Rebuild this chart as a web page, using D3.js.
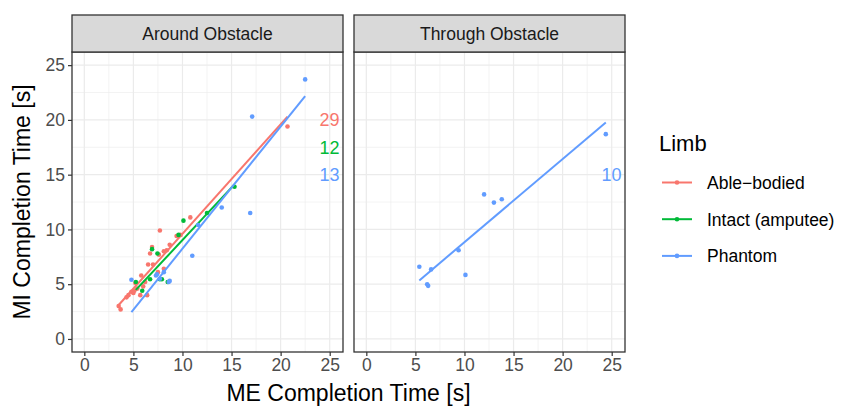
<!DOCTYPE html>
<html>
<head>
<meta charset="utf-8">
<script src="https://cdn.jsdelivr.net/npm/d3@7"></script>
<style>
  body { margin: 0; background: #fff; }
  svg { font-family: "Liberation Sans", Arial, sans-serif; }
</style>
</head>
<body>
<svg id="chart" width="847" height="408"></svg>
<script>
// facets, groups and colours
const panels = ['Around Obstacle', 'Through Obstacle'];
const limbs = ['Able−bodied', 'Intact (amputee)', 'Phantom'];
const limbColors = ['#F8766D', '#00BA38', '#619CFF'];
const xTicks = [0, 5, 10, 15, 20, 25];
const yTicks = [0, 5, 10, 15, 20, 25];

// [ME time, MI time] per participant
const aroundAble = [
    [3.5, 3.0], [3.7, 2.7], [4.3, 3.8], [4.5, 4.0], [4.8, 4.3], [5.0, 4.2],
    [5.1, 4.4], [5.2, 5.1], [5.7, 4.0], [6.0, 4.8], [6.4, 4.0], [5.8, 5.8],
    [6.5, 6.8], [7.0, 6.8], [6.7, 7.8], [6.9, 8.4], [7.5, 6.1], [7.7, 9.9],
    [8.1, 8.0], [8.1, 6.4], [7.6, 7.7], [8.7, 8.6], [9.4, 9.4], [9.8, 9.5],
    [10.8, 11.1], [20.7, 19.4], [6.2, 5.2], [5.4, 4.6], [8.4, 8.1]
];
const aroundIntact = [
    [5.25, 5.2], [5.9, 4.4], [6.7, 5.45], [6.9, 8.2], [7.45, 7.8], [7.7, 5.45],
    [7.9, 5.45], [8.5, 5.2], [9.6, 9.5], [10.1, 10.8], [12.5, 11.5], [15.3, 13.9]
];
const aroundPhantom = [
    [4.8, 5.4], [7.4, 5.9], [8.1, 6.1], [7.7, 5.5], [8.6, 5.2], [8.7, 5.3],
    [11.0, 7.6], [11.6, 10.4], [14.0, 12.0], [16.9, 11.5], [17.1, 20.3],
    [22.5, 23.7], [7.3, 5.8]
];
const throughPhantom = [
    [5.4, 6.6], [6.2, 5.0], [6.3, 4.85], [6.6, 6.35], [9.4, 8.1], [10.1, 5.85],
    [12.0, 13.2], [13.0, 12.45], [13.8, 12.75], [24.4, 18.7]
];

const series = [
    { panel: 0, limb: 0, pts: aroundAble },
    { panel: 0, limb: 1, pts: aroundIntact },
    { panel: 0, limb: 2, pts: aroundPhantom },
    { panel: 1, limb: 2, pts: throughPhantom }
];
// count labels, stacked down the right side of each panel
const countY = [20, 17.5, 15];

const svg = d3.select('#chart');
const panelLeft = [72, 354], panelW = 271;
const panelTop = 52, panelBottom = 352, stripTop = 15;

const y = d3.scaleLinear().domain([-1.19, 26.2]).range([panelBottom, panelTop]);

function fit(pts) {
    let mx = d3.mean(pts, d => d[0]), my = d3.mean(pts, d => d[1]);
    let sxy = d3.sum(pts, d => (d[0] - mx) * (d[1] - my));
    let sxx = d3.sum(pts, d => (d[0] - mx) * (d[0] - mx));
    let b = sxy / sxx;
    return x => my + b * (x - mx);
}

panels.forEach((name, pi) => {
    let x = d3.scaleLinear().domain([-1.255, 26.355]).range([panelLeft[pi], panelLeft[pi] + panelW]);
    let g = svg.append('g');

    let minor = d3.range(2.5, 25, 5);
    g.selectAll('.vminor').data(minor).join('line')
        .attr('x1', d => x(d)).attr('x2', d => x(d)).attr('y1', panelTop).attr('y2', panelBottom)
        .attr('stroke', '#EBEBEB').attr('stroke-width', 0.6);
    g.selectAll('.hminor').data(minor).join('line')
        .attr('y1', d => y(d)).attr('y2', d => y(d)).attr('x1', x.range()[0]).attr('x2', x.range()[1])
        .attr('stroke', '#EBEBEB').attr('stroke-width', 0.6);
    g.selectAll('.vmajor').data(xTicks).join('line')
        .attr('x1', d => x(d)).attr('x2', d => x(d)).attr('y1', panelTop).attr('y2', panelBottom)
        .attr('stroke', '#EBEBEB').attr('stroke-width', 1.2);
    g.selectAll('.hmajor').data(yTicks).join('line')
        .attr('y1', d => y(d)).attr('y2', d => y(d)).attr('x1', x.range()[0]).attr('x2', x.range()[1])
        .attr('stroke', '#EBEBEB').attr('stroke-width', 1.2);

    let clip = `clip${pi}`;
    svg.append('clipPath').attr('id', clip).append('rect')
        .attr('x', x.range()[0]).attr('y', panelTop).attr('width', panelW).attr('height', panelBottom - panelTop);
    let marks = g.append('g').attr('clip-path', `url(#${clip})`);

    series.filter(s => s.panel === pi).forEach(s => {
        let f = fit(s.pts);
        let [x0, x1] = d3.extent(s.pts, d => d[0]);
        marks.append('line')
            .attr('x1', x(x0)).attr('y1', y(f(x0)))
            .attr('x2', x(x1)).attr('y2', y(f(x1)))
            .attr('stroke', limbColors[s.limb]).attr('stroke-width', 2);
        marks.selectAll(null).data(s.pts).join('circle')
            .attr('cx', d => x(d[0])).attr('cy', d => y(d[1])).attr('r', 2.3)
            .attr('fill', limbColors[s.limb]);
        g.append('text')
            .attr('x', x(26)).attr('y', y(countY[s.limb]))
            .attr('dy', '0.36em').attr('text-anchor', 'end')
            .attr('font-size', 18).attr('fill', limbColors[s.limb])
            .text(s.pts.length);
    });

    g.append('rect')
        .attr('x', x.range()[0]).attr('y', panelTop).attr('width', panelW).attr('height', panelBottom - panelTop)
        .attr('fill', 'none').attr('stroke', '#333333').attr('stroke-width', 1.3);

    // strip
    g.append('rect')
        .attr('x', x.range()[0]).attr('y', stripTop).attr('width', panelW).attr('height', panelTop - stripTop)
        .attr('fill', '#D9D9D9').attr('stroke', '#333333').attr('stroke-width', 1.3);
    g.append('text')
        .attr('x', x.range()[0] + panelW / 2).attr('y', (stripTop + panelTop) / 2)
        .attr('dy', '0.36em').attr('text-anchor', 'middle')
        .attr('font-size', 17.5).attr('fill', '#1A1A1A')
        .text(name);

    // x axis
    let xa = g.append('g').attr('transform', `translate(0,${panelBottom})`)
        .call(d3.axisBottom(x).tickValues(xTicks).tickSize(4).tickPadding(3));
    xa.select('.domain').remove();
    xa.selectAll('line').attr('stroke', '#333333').attr('stroke-width', 1.2);
    xa.selectAll('text').attr('font-size', 17.5).attr('fill', '#4D4D4D')
        .attr('font-family', '"Liberation Sans", Arial, sans-serif');

    if (pi === 0) {
        let ya = g.append('g').attr('transform', `translate(${x.range()[0]},0)`)
            .call(d3.axisLeft(y).tickValues(yTicks).tickSize(4).tickPadding(3));
        ya.select('.domain').remove();
        ya.selectAll('line').attr('stroke', '#333333').attr('stroke-width', 1.2);
        ya.selectAll('text').attr('font-size', 17.5).attr('fill', '#4D4D4D')
            .attr('font-family', '"Liberation Sans", Arial, sans-serif');
    }
});

svg.append('text')
    .attr('x', (panelLeft[0] + panelLeft[1] + panelW) / 2).attr('y', 401)
    .attr('text-anchor', 'middle').attr('font-size', 23).attr('fill', '#000')
    .text('ME Completion Time [s]');
svg.append('text')
    .attr('transform', `translate(30,${(panelTop + panelBottom) / 2}) rotate(-90)`)
    .attr('text-anchor', 'middle').attr('font-size', 23).attr('fill', '#000')
    .text('MI Completion Time [s]');

// legend
let lg = svg.append('g');
lg.append('text').attr('x', 659).attr('y', 151).attr('font-size', 22).text('Limb');
limbs.forEach((name, i) => {
    let ky = 182.5 + i * 36.7;
    lg.append('line').attr('x1', 662).attr('x2', 692).attr('y1', ky).attr('y2', ky)
        .attr('stroke', limbColors[i]).attr('stroke-width', 2);
    lg.append('circle').attr('cx', 677).attr('cy', ky).attr('r', 2.3).attr('fill', limbColors[i]);
    lg.append('text').attr('x', 707).attr('y', ky).attr('dy', '0.36em')
        .attr('font-size', 17.5).attr('fill', '#000').text(name);
});
</script>
</body>
</html>
